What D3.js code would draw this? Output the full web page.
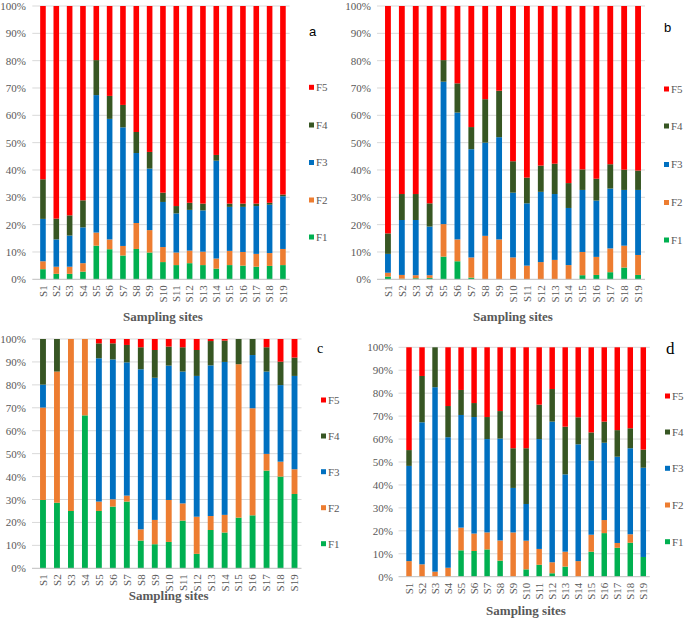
<!DOCTYPE html>
<html>
<head>
<meta charset="utf-8">
<script src="https://cdn.jsdelivr.net/npm/d3@7"></script>
<style>
  html, body { margin: 0; padding: 0; background: #fff; }
  svg { display: block; }
</style>
</head>
<body>
<svg id="chart" width="685" height="620"></svg>
<script>
// ---- Data ----
const sites = ["S1","S2","S3","S4","S5","S6","S7","S8","S9","S10","S11","S12","S13","S14","S15","S16","S17","S18","S19"];
const fractions = ["F1","F2","F3","F4","F5"];
const colors = ["#00b050","#ed7d31","#0070c0","#375623","#ff0000"];
const yTickValues = [0,10,20,30,40,50,60,70,80,90,100];
const yTickLabels = ["0%","10%","20%","30%","40%","50%","60%","70%","80%","90%","100%"];
const xTitle = "Sampling sites";

// Panel a
const aF1 = [3.7,2.0,2.0,2.8,12.3,11.0,8.7,11.1,9.8,6.3,5.2,5.9,5.2,3.9,5.2,5.0,4.6,4.9,5.2];
const aF2 = [2.9,2.6,2.6,3.1,4.8,3.6,3.5,9.5,8.2,5.5,4.6,4.6,4.9,3.7,5.2,5.0,4.7,4.7,5.9];
const aF3 = [15.5,10.0,11.4,13.1,50.3,44.1,43.4,25.6,22.5,16.5,14.3,14.9,15.1,35.8,16.1,16.5,17.5,17.7,19.3];
const aF4 = [14.5,7.6,7.4,9.9,12.8,8.4,8.2,7.7,6.1,3.4,2.7,2.6,2.5,2.1,1.2,1.2,0.9,0.7,0.6];
const aF5 = [63.4,77.8,76.6,71.1,19.8,32.9,36.2,46.1,53.4,68.3,73.2,72.0,72.3,54.5,72.3,72.3,72.3,72.0,69.0];

// Panel b
const bF1 = [1.0,0.2,0.4,0.5,8.3,6.6,0.6,0,0,0,0,0,0,0,1.5,1.6,2.6,4.3,1.6];
const bF2 = [1.4,1.4,1.1,1.0,11.9,8.0,7.4,15.9,14.6,8.0,5.0,6.3,7.1,5.2,8.5,6.6,8.7,8.0,7.3];
const bF3 = [6.9,20.1,20.2,17.8,52.1,46.4,39.6,34.1,37.4,23.7,22.8,25.7,24.1,20.9,22.7,20.6,21.9,20.4,23.8];
const bF4 = [7.5,9.5,9.5,8.5,7.9,10.7,8.1,15.9,17.0,11.5,9.4,9.6,11.1,9.1,7.5,8.0,8.9,7.4,7.1];
const bF5 = [83.2,68.8,68.8,72.2,19.8,28.3,44.3,34.1,31.0,56.8,62.8,58.4,57.7,64.8,59.8,63.2,57.9,59.9,60.2];

// Panel c
const cF1 = [29.8,28.6,25.0,66.7,25.0,26.9,29.1,12.1,10.5,11.5,20.8,6.3,16.7,15.6,22.1,23.1,42.6,40.0,32.4];
const cF2 = [40.3,57.2,75.0,33.3,4.1,3.2,2.6,4.9,10.6,18.3,7.5,16.2,6.1,7.7,66.9,46.7,7.3,6.5,10.8];
const cF3 = [10.0,0,0,0,62.5,61.0,58.1,69.8,62.0,58.6,57.5,61.4,65.7,66.7,0,23.2,35.9,33.4,40.7];
const cF4 = [19.9,14.2,0,0,6.5,7.0,7.6,9.6,12.1,8.3,10.6,11.3,10.6,9.3,11.0,7.0,10.6,10.2,8.0];
const cF5 = [0,0,0,0,1.9,1.9,2.6,3.6,4.8,3.3,3.6,4.8,0.9,0.7,0,0,3.6,9.9,8.1];

// Panel d
const dF1 = [0,0,0,0,11.5,11.2,11.9,7.0,0,3.2,5.2,1.5,4.4,0,10.9,19.0,12.6,14.8,8.6];
const dF2 = [6.8,5.4,2.2,3.9,9.9,7.6,7.4,8.8,19.3,12.5,6.9,4.8,6.5,6.8,7.4,5.7,2.1,3.7,0];
const dF3 = [41.5,61.9,80.4,56.9,49.1,50.8,40.7,44.4,19.4,16.0,47.9,61.3,33.7,50.9,32.3,33.7,37.6,37.5,38.9];
const dF4 = [6.9,20.2,17.4,13.6,10.9,6.1,9.6,12.0,17.3,24.3,15.0,14.2,20.8,11.8,12.3,9.2,11.6,8.7,7.9];
const dF5 = [44.8,12.5,0,25.6,18.6,24.3,30.4,27.8,44.0,44.0,25.0,18.2,34.6,30.5,37.1,32.4,36.1,35.3,44.6];

// ---- Layout ----
const sans = "'Liberation Sans', Arial, sans-serif";
const serif = "'Liberation Serif', 'Times New Roman', serif";
const panels = [
  { id:"a", series:[aF1,aF2,aF3,aF4,aF5], x0:36.3, x1:289.6, yTop:6, yBot:279.3, yLabX:26,
    tag:{x:309, y:36, font:sans, size:13},
    legX:309, legY:[237,200,162.5,125,87.3], title:{x:163, y:321} },
  { id:"b", series:[bF1,bF2,bF3,bF4,bF5], x0:381, x1:645, yTop:6, yBot:279.3, yLabX:371,
    tag:{x:664, y:32, font:sans, size:13},
    legX:664, legY:[240,202.5,164.5,126,89], title:{x:513, y:321} },
  { id:"c", series:[cF1,cF2,cF3,cF4,cF5], x0:36, x1:301.5, yTop:339, yBot:568.3, yLabX:26,
    tag:{x:317, y:353, font:serif, size:14},
    legX:321, legY:[543.7,507.7,471.7,436,400], title:{x:168.7, y:600} },
  { id:"d", series:[dF1,dF2,dF3,dF4,dF5], x0:402.5, x1:649.8, yTop:347.3, yBot:576.7, yLabX:393,
    tag:{x:666, y:354, font:serif, size:17},
    legX:665, legY:[541.7,505,468.3,432,396], title:{x:526, y:615} }
];

const svg = d3.select("#chart");
const tickColor = "#595959";

panels.forEach(p => {
  const g = svg.append("g").attr("class", "panel-" + p.id);
  const rows = sites.map((s, i) => {
    const r = { site: s };
    fractions.forEach((f, k) => { r[f] = p.series[k][i]; });
    return r;
  });

  const x = d3.scaleBand().domain(sites).range([p.x0, p.x1]).paddingInner(0.58).paddingOuter(0.29);
  const y = d3.scaleLinear().domain([0, 100]).range([p.yBot, p.yTop]);

  // gridlines
  g.append("g").selectAll("line").data(yTickValues.slice(1)).join("line")
    .attr("x1", p.x0 - 4).attr("x2", p.x1)
    .attr("y1", d => y(d)).attr("y2", d => y(d))
    .attr("stroke", "#d9d9d9").attr("stroke-width", 1);

  // stacked bars
  const stack = d3.stack().keys(fractions)(rows);
  g.append("g").selectAll("g").data(stack).join("g")
    .attr("fill", (d, i) => colors[i])
    .selectAll("rect").data(d => d).join("rect")
    .attr("x", d => x(d.data.site))
    .attr("width", x.bandwidth())
    .attr("y", d => y(d[1]))
    .attr("height", d => Math.max(0, y(d[0]) - y(d[1])));

  // baseline
  g.append("line").attr("x1", p.x0 - 4).attr("x2", p.x1)
    .attr("y1", y(0)).attr("y2", y(0))
    .attr("stroke", "#bfbfbf").attr("stroke-width", 1);

  // y axis labels
  const ya = g.append("g").attr("transform", `translate(${p.yLabX},0)`)
    .call(d3.axisLeft(y).tickValues(yTickValues).tickFormat((d, i) => yTickLabels[i]).tickSize(0).tickPadding(0));
  ya.attr("font-family", null);
  ya.select(".domain").remove();
  ya.selectAll("text").attr("fill", tickColor).style("font-family", serif).style("font-size", "11px");

  // x axis labels
  const xa = g.append("g").attr("transform", `translate(0,${p.yBot})`)
    .call(d3.axisBottom(x).tickSize(0));
  xa.attr("font-family", null);
  xa.select(".domain").remove();
  xa.selectAll("text")
    .attr("transform", "rotate(-90)")
    .attr("x", -6).attr("y", 0).attr("dy", "0.35em")
    .style("text-anchor", "end")
    .attr("fill", tickColor).style("font-family", serif).style("font-size", "11px");

  // x title
  g.append("text").attr("x", p.title.x).attr("y", p.title.y)
    .attr("text-anchor", "middle").attr("fill", tickColor)
    .style("font-family", serif).style("font-size", "13px").style("font-weight", "bold")
    .text(xTitle);

  // panel tag
  g.append("text").attr("x", p.tag.x).attr("y", p.tag.y)
    .attr("fill", "#000").style("font-family", p.tag.font).style("font-size", p.tag.size + "px")
    .text(p.id);

  // legend
  fractions.forEach((f, k) => {
    const ly = p.legY[k];
    g.append("rect").attr("x", p.legX).attr("y", ly - 2.5).attr("width", 5).attr("height", 5).attr("fill", colors[k]);
    g.append("text").attr("x", p.legX + 7).attr("y", ly).attr("dy", "0.35em")
      .attr("fill", tickColor).style("font-family", serif).style("font-size", "11px")
      .text(f);
  });
});
</script>
</body>
</html>
